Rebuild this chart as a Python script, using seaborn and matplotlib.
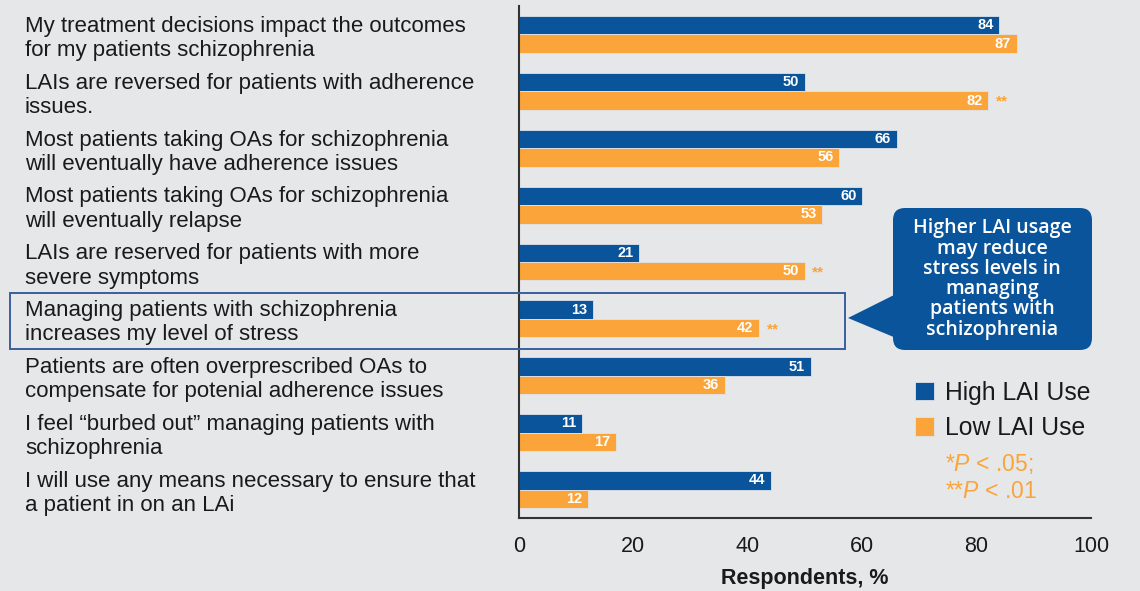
import matplotlib
matplotlib.use("Agg")
import matplotlib.pyplot as plt
import seaborn as sns
import pandas as pd
from matplotlib.patches import Rectangle, FancyBboxPatch, Polygon

statements = [
    "My treatment decisions impact the outcomes\nfor my patients schizophrenia",
    "LAIs are reversed for patients with adherence\nissues.",
    "Most patients taking OAs for schizophrenia\nwill eventually have adherence issues",
    "Most patients taking OAs for schizophrenia\nwill eventually relapse",
    "LAIs are reserved for patients with more\nsevere symptoms",
    "Managing patients with schizophrenia\nincreases my level of stress",
    "Patients are often overprescribed OAs to\ncompensate for potenial adherence issues",
    "I feel \u201cburbed out\u201d managing patients with\nschizophrenia",
    "I will use any means necessary to ensure that\na patient in on an LAi",
]
high_lai = [84, 50, 66, 60, 21, 13, 51, 11, 44]
low_lai = [87, 82, 56, 53, 50, 42, 36, 17, 12]
low_sig = ["", "**", "", "", "**", "**", "", "", ""]
groups = ["High LAI Use", "Low LAI Use"]
xticks = [0, 20, 40, 60, 80, 100]
callout_text = "Higher LAI usage\nmay reduce\nstress levels in\nmanaging\npatients with\nschizophrenia"

BLUE = "#0a549b"
ORANGE = "#faa43a"
BG = "#e6e7e9"
DARK = "#1a1a1a"

sns.set_theme(style="white")
plt.rcParams["font.family"] = ["Liberation Sans", "DejaVu Sans"]
plt.rcParams["mathtext.fontset"] = "custom"
plt.rcParams["mathtext.it"] = "Liberation Sans:italic"
plt.rcParams["mathtext.rm"] = "Liberation Sans"

df = pd.DataFrame({
    "statement": statements * 2,
    "value": high_lai + low_lai,
    "group": [groups[0]] * len(statements) + [groups[1]] * len(statements),
})

W, H = 1140, 591
fig = plt.figure(figsize=(W / 100, H / 100), dpi=100, facecolor=BG)
ax = fig.add_axes([519 / W, 1 - 518 / H, (1091 - 519) / W, (518 - 6) / H])
ax.set_facecolor(BG)

sns.barplot(data=df, y="statement", x="value", hue="group", orient="h",
            palette=[BLUE, ORANGE], width=0.65, saturation=1, ax=ax,
            edgecolor="#dfe3ea", linewidth=0.6, dodge=True)

ax.set_xlim(0, 100)
ax.set_ylim(8.5, -0.5)
ax.set_xticks(xticks)
ax.set_xticklabels([str(t) for t in xticks], fontsize=15.5, color=DARK)
ax.tick_params(axis="x", length=7, width=1.3, color="#333333", pad=6)
ax.set_yticks(range(len(statements)))
ax.set_yticklabels([])
ax.tick_params(axis="y", length=0)
ax.set_ylabel("")
ax.set_xlabel("Respondents, %", fontsize=15.5, fontweight="bold", color=DARK, labelpad=8)
for s in ["top", "right"]:
    ax.spines[s].set_visible(False)
for s in ["left", "bottom"]:
    ax.spines[s].set_color("#333333")
    ax.spines[s].set_linewidth(1.5)

# category labels, left aligned
ytr = ax.get_yaxis_transform()
x_lab = (25 - 519) / (1091 - 519)
for i, s in enumerate(statements):
    ax.text(x_lab, i + 0.07, s, transform=ytr, ha="left", va="center",
            fontsize=16.0, color=DARK, linespacing=1.2, clip_on=False)

# value labels
for cont, vals in zip(ax.containers, [high_lai, low_lai]):
    for bar, v in zip(cont, vals):
        ax.text(v - 1.0, bar.get_y() + bar.get_height() / 2, str(v),
                ha="right", va="center", color="white", fontsize=10.5,
                fontweight="bold")
for bar, v, sig in zip(ax.containers[1], low_lai, low_sig):
    if sig:
        ax.text(v + 1.3, bar.get_y() + bar.get_height() / 2 + 0.02, sig,
                ha="left", va="center", color=ORANGE, fontsize=11,
                fontweight="bold")

# highlight box
x0 = (10 - 519) / (1091 - 519)
x1 = (845 - 519) / (1091 - 519)
ax.add_patch(Rectangle((x0, 4.545), x1 - x0, 0.98, transform=ytr,
                       fill=False, edgecolor="#3a5f9c", linewidth=1.4,
                       clip_on=False, zorder=5))

# legend
sns.move_legend(ax, loc="upper left", bbox_to_anchor=(915 / W, 1 - 381 / H),
                bbox_transform=fig.transFigure, frameon=False, title=None,
                fontsize=17.8, handlelength=0.75, handleheight=0.75,
                handletextpad=0.45, labelspacing=0.45, borderaxespad=0,
                borderpad=0)
for t in ax.get_legend().get_texts():
    t.set_color(DARK)

fig.text(945 / W, 1 - 464 / H, "*$P$ < .05;", color=ORANGE, fontsize=16.5,
         ha="left", va="center")
fig.text(945 / W, 1 - 492 / H, "**$P$ < .01", color=ORANGE, fontsize=16.5,
         ha="left", va="center")

# callout
def px(x, y):
    return (x / 100, (H - y) / 100)

bx0, by0, bx1, by1 = 893, 208, 1092, 350
box = FancyBboxPatch(px(bx0, by1), (bx1 - bx0) / 100, (by1 - by0) / 100,
                     boxstyle="round,pad=0,rounding_size=0.12",
                     transform=fig.dpi_scale_trans, facecolor=BLUE,
                     edgecolor="none", zorder=10)
fig.patches.append(box)
tri = Polygon([px(848, 318), px(896, 294), px(896, 338)], closed=True,
              transform=fig.dpi_scale_trans, facecolor=BLUE, edgecolor="none",
              zorder=10)
fig.patches.append(tri)
fig.text(992 / W, 1 - 279 / H, callout_text, color="white", fontsize=14,
         fontfamily=["Open Sans", "DejaVu Sans"], fontweight="semibold",
         ha="center", va="center", linespacing=1.02, zorder=11)

fig.savefig("out.png", dpi=100, facecolor=BG)
